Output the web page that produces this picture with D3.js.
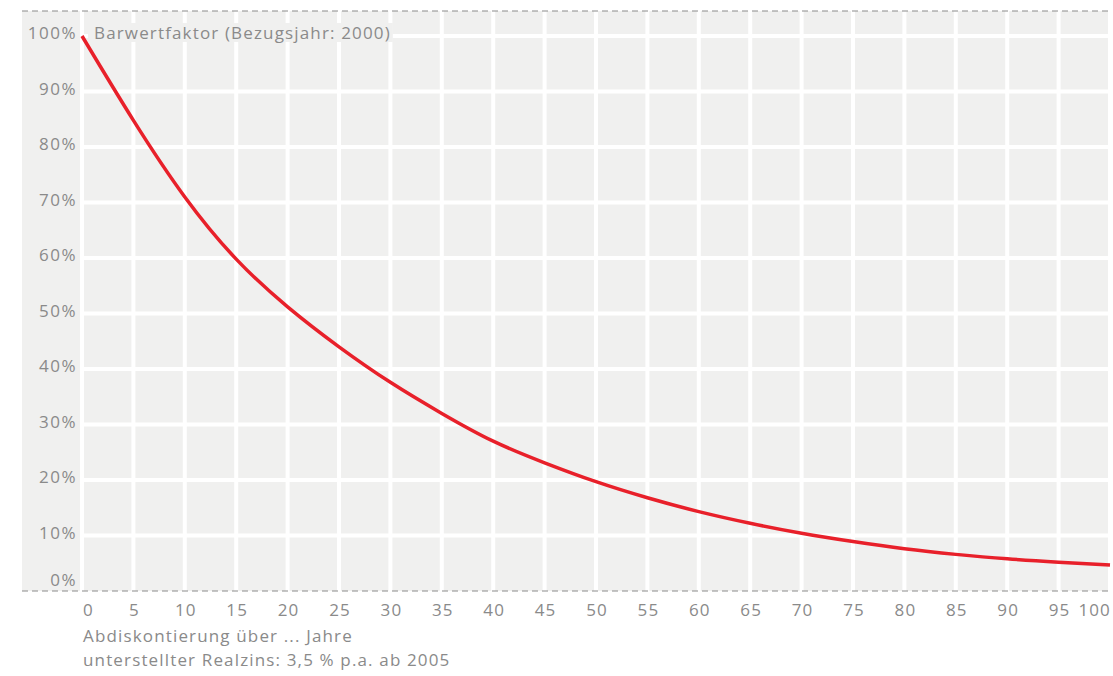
<!DOCTYPE html>
<html>
<head>
<meta charset="utf-8">
<script src="https://cdn.jsdelivr.net/npm/d3@7/dist/d3.min.js"></script>
<style>
  body { margin:0; background:#fff; }
  svg text { font-family: "Open Sans", Roboto, sans-serif; fill:#8a8a8a; font-size:17px; letter-spacing:1.15px; }
</style>
</head>
<body>
<svg id="chart" width="1113" height="676"></svg>
<script>
// Abdiskontierung über ... Jahre
var years  = [0,5,10,15,20,25,30,35,40,45,50,55,60,65,70,75,80,85,90,95,100];
// Barwertfaktor in %
var factor = [100,84.8,71,59.8,51.2,44,37.6,32,27,23.1,19.7,16.8,14.3,12.2,10.4,8.9,7.6,6.6,5.8,5.2,4.7];
var yTicks = [0,10,20,30,40,50,60,70,80,90,100];
var xTicks = d3.range(0,101,5);
var title = "Barwertfaktor (Bezugsjahr: 2000)";
var note1 = "Abdiskontierung über ... Jahre";
var note2 = "unterstellter Realzins: 3,5 % p.a. ab 2005";

var svg = d3.select("#chart");
var bgLeft = 22, bgTop = 11, bgRight = 1111, bgBottom = 591;

var x = d3.scaleLinear().domain([0,100]).range([82,1110]);
var y = d3.scaleLinear().domain([0,100]).range([591,36]);

// grey panel
svg.append("rect")
   .attr("x",bgLeft).attr("y",bgTop)
   .attr("width",bgRight-bgLeft).attr("height",bgBottom-bgTop)
   .attr("fill","#f0f0ef");

// white grid
svg.append("g").selectAll("line.h")
   .data(yTicks.filter(function(d){return d>0;}))
   .enter().append("line")
   .attr("x1",x(0)).attr("x2",bgRight)
   .attr("y1",function(d){return y(d);}).attr("y2",function(d){return y(d);})
   .style("stroke","#fff").style("stroke-width","4px");
svg.append("g").selectAll("line.v")
   .data(xTicks)
   .enter().append("line")
   .attr("x1",function(d){return x(d);}).attr("x2",function(d){return x(d);})
   .attr("y1",bgTop).attr("y2",bgBottom)
   .style("stroke","#fff").style("stroke-width","4px");

// dashed borders top + bottom
[bgTop, bgBottom].forEach(function(yy){
  svg.append("line")
     .attr("x1",bgLeft).attr("x2",bgRight)
     .attr("y1",yy).attr("y2",yy)
     .style("stroke","#8c8c8c").style("stroke-width","1.2px")
     .attr("stroke-dasharray","6, 4");
});

// title with a grey box behind it
var t = svg.append("text")
   .attr("x",94).attr("y",39)
   .text(title);
var tb = t.node().getBBox();
svg.insert("rect","text")
   .attr("x",tb.x-6).attr("y",tb.y+2)
   .attr("width",tb.width+8).attr("height",tb.height-4)
   .attr("fill","#f0f0ef");

// y labels
svg.append("g").selectAll("text")
   .data(yTicks)
   .enter().append("text")
   .attr("x",77)
   .attr("y",function(d){return d==0 ? y(d)-5 : y(d)+3;})
   .attr("text-anchor","end")
   .style("letter-spacing","1.5px")
   .text(function(d){return d+"%";});

// x labels
svg.append("g").selectAll("text")
   .data(xTicks)
   .enter().append("text")
   .attr("x",function(d){return x(d)+1;})
   .attr("y",616)
   .attr("text-anchor",function(d){return d==0 ? "start" : (d==100 ? "end" : "middle");})
   .text(function(d){return d;});

svg.append("text").attr("x",83).attr("y",642).text(note1);
svg.append("text").attr("x",83).attr("y",666).text(note2);

// curve
var line = d3.line()
   .x(function(d,i){return x(years[i]);})
   .y(function(d){return y(d);})
   .curve(d3.curveNatural);
svg.append("path")
   .datum(factor)
   .attr("d",line)
   .attr("fill","none")
   .style("stroke","#e8202a")
   .style("stroke-width","3.5px");
</script>
</body>
</html>
